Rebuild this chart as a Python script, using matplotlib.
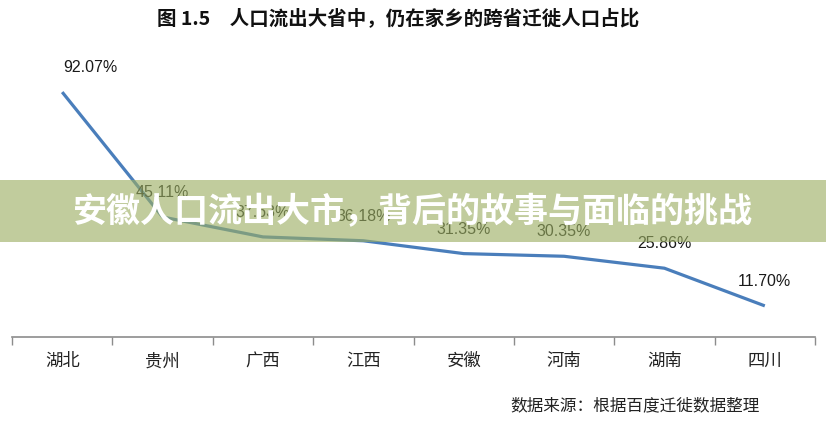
import matplotlib
matplotlib.use("Agg")
import matplotlib.pyplot as plt
from matplotlib.patches import Rectangle

plt.rcParams['font.family'] = ['Noto Sans CJK SC', 'DejaVu Sans']

provinces = ["湖北", "贵州", "广西", "江西", "安徽", "河南", "湖南", "四川"]
share_pct = [92.07, 45.11, 37.63, 36.18, 31.35, 30.35, 25.86, 11.70]

title_text = "图 1.5　人口流出大省中，仍在家乡的跨省迁徙人口占比"
source_text = "数据来源：根据百度迁徙数据整理"
banner_text = "安徽人口流出大市，背后的故事与面临的挑战"

W, H = 826, 423
fig = plt.figure(figsize=(W / 100, H / 100), dpi=100)
fig.patch.set_facecolor("white")

# plot area in pixels: x 12..815, y (bottom axis) 337, top 71
ax = fig.add_axes([12 / W, (H - 337) / H, (815 - 12) / W, (337 - 71) / H])
x = list(range(len(provinces)))
ax.plot(x, share_pct, color="#4a7ebb", linewidth=2.3, solid_capstyle="butt", zorder=3)

ax.set_xlim(-0.5, len(provinces) - 0.5)
ax.set_ylim(0, 100)

for xi, v in zip(x, share_pct):
    dx = 20 if xi == 0 else 0
    ax.annotate(f"{v:.2f}%", (xi, v), xytext=(dx, 17.5), textcoords="offset points",
                ha="center", va="center", fontsize=11.5, color="#1a1a1a",
                family=["Liberation Sans", "DejaVu Sans"])

for side in ["left", "right", "top"]:
    ax.spines[side].set_visible(False)
ax.spines["bottom"].set_color("#8c8c8c")
ax.spines["bottom"].set_linewidth(1.2)
ax.set_yticks([])

# ticks on category boundaries, labels at centres
ax.set_xticks([i - 0.5 for i in range(len(provinces) + 1)])
ax.set_xticklabels([])
ax.tick_params(axis="x", which="major", direction="out", length=6, width=1, color="#8c8c8c")
ax.set_xticks(x, minor=True)
ax.set_xticklabels(provinces, minor=True, fontsize=12.5, color="#222222")
ax.tick_params(axis="x", which="minor", length=0, pad=11)

fig.text(398 / W, 1 - 18 / H, title_text, ha="center", va="center",
         fontsize=14, fontweight="bold", color="#111111")
fig.text(760 / W, 1 - 406 / H, source_text, ha="right", va="center",
         fontsize=12, color="#222222")

# green banner overlay
band = Rectangle((0, 1 - 242 / H), 1, (242 - 180) / H, transform=fig.transFigure,
                 facecolor=(155 / 255, 174 / 255, 98 / 255), alpha=0.62, edgecolor="none", zorder=5)
fig.patches.append(band)
fig.text(413 / W, 1 - 212 / H, banner_text, ha="center", va="center",
         fontsize=24.5, fontweight="heavy", color="white", zorder=6)

fig.savefig("out.png", dpi=100)
